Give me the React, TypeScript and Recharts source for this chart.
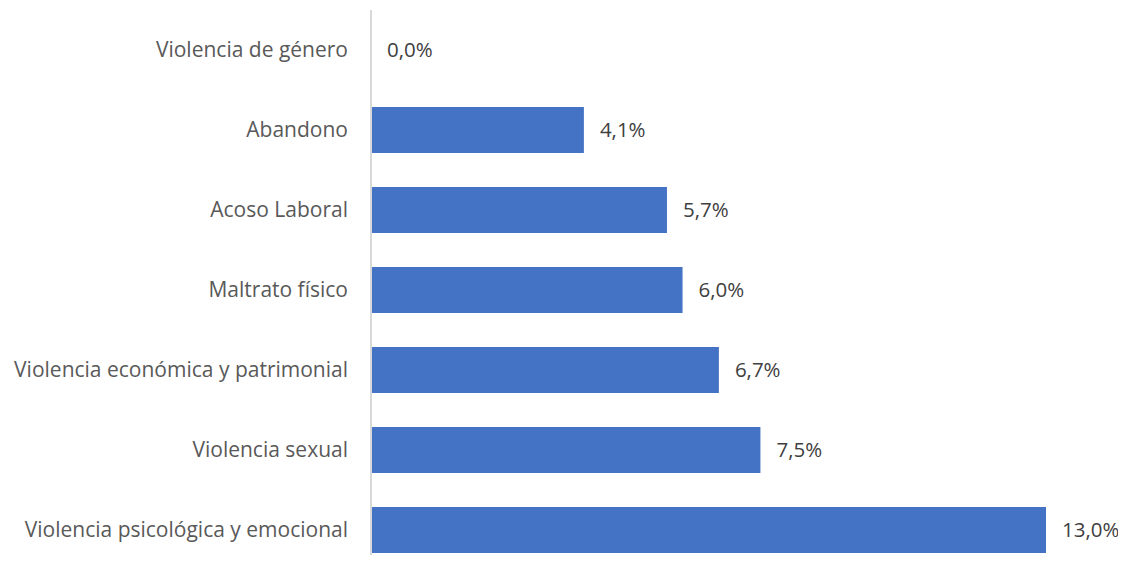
import { BarChart, Bar, XAxis, YAxis, LabelList } from 'recharts';

const CATEGORIES = [
    'Violencia de género',
    'Abandono',
    'Acoso Laboral',
    'Maltrato físico',
    'Violencia económica y patrimonial',
    'Violencia sexual',
    'Violencia psicológica y emocional',
];
const VALUES = [0.0, 4.1, 5.7, 6.0, 6.7, 7.5, 13.0];

const data = CATEGORIES.map((name, i) => ({ name, value: VALUES[i] }));

const formatPct = (v: number) => `${Number(v).toFixed(1).replace('.', ',')}%`;

const renderLabel = (props: any) => {
    const { x, y, width, height, value } = props;
    return (
        <text
            x={Number(x) + Number(width || 0) + 16}
            y={Number(y) + Number(height) / 2}
            dy="0.35em"
            fill="#404040"
            fontSize={20.5}
            textAnchor="start"
        >
            {formatPct(value)}
        </text>
    );
};

const App = () => {
    return (
        <div style={{ margin: -8, width: 1126, height: 563, overflow: 'hidden', background: '#fff' }}>
            <BarChart
                width={1126}
                height={580}
                data={data}
                layout="vertical"
                margin={{ top: 10, right: 80, bottom: 10, left: 0 }}
                style={{ fontFamily: '"Open Sans", sans-serif' }}
            >
                <XAxis type="number" domain={[0, 13]} hide />
                <YAxis
                    type="category"
                    dataKey="name"
                    width={371}
                    axisLine={{ stroke: '#d9d9d9', strokeWidth: 2 }}
                    tickLine={false}
                    tickSize={0}
                    tickMargin={23}
                    tick={{ fill: '#595959', fontSize: 21 }}
                    interval={0}
                />
                <Bar dataKey="value" fill="#4472C4" barSize={46} minPointSize={0.1} isAnimationActive={false}>
                    <LabelList dataKey="value" content={renderLabel} />
                </Bar>
            </BarChart>
        </div>
    );
};

export default App;
